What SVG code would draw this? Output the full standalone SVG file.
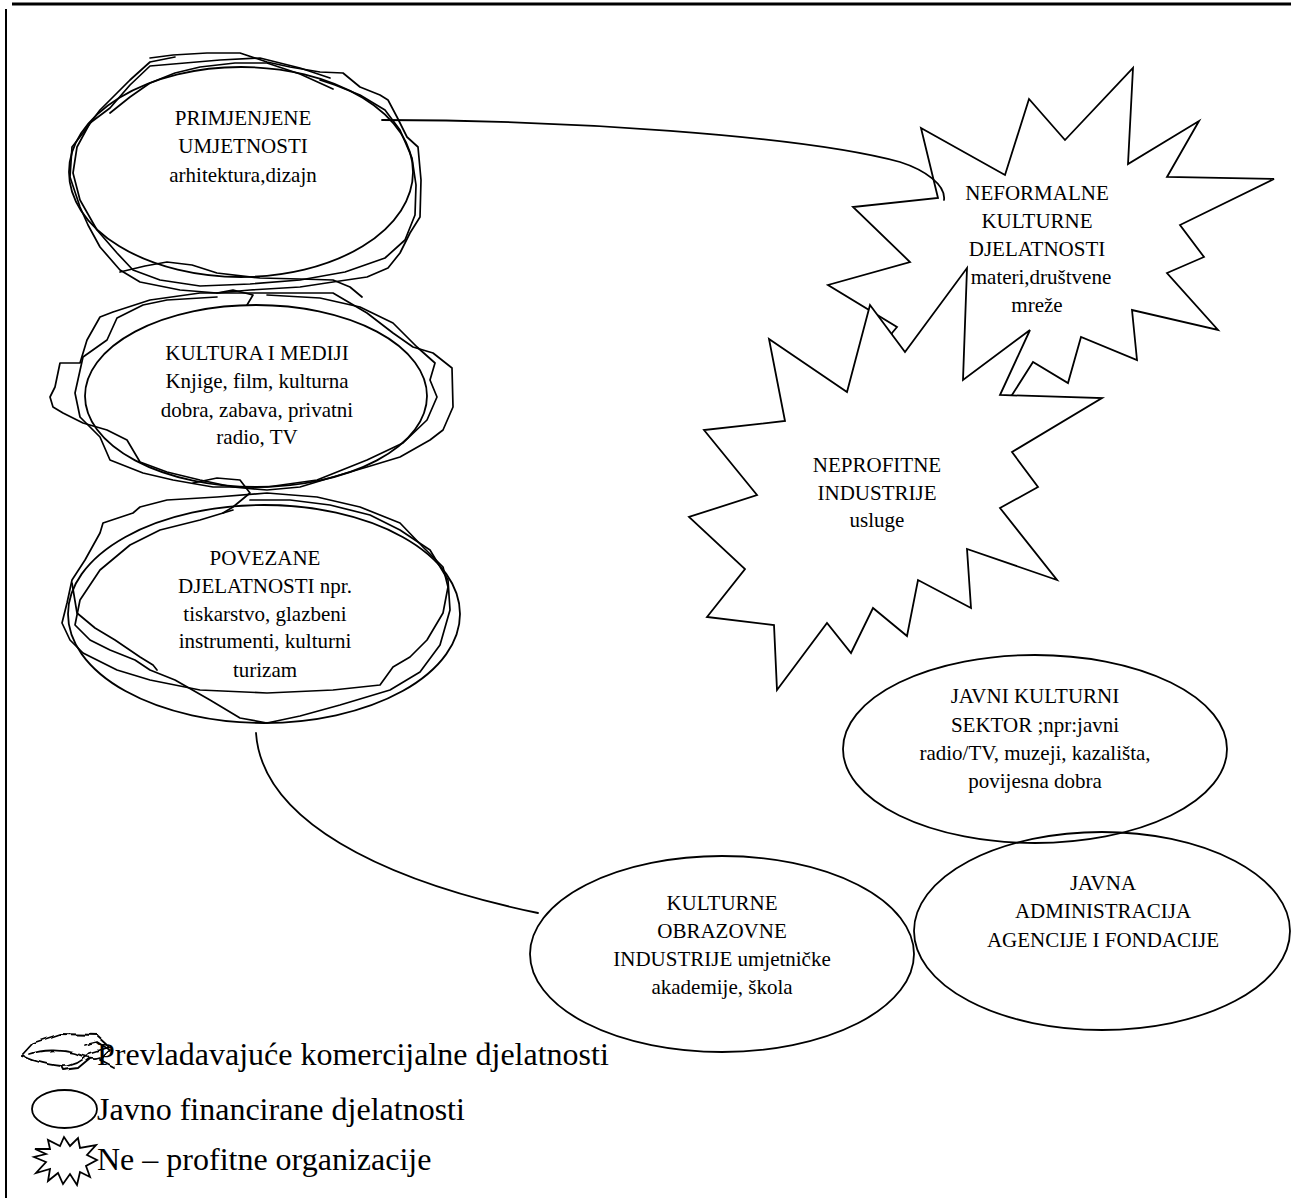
<svg xmlns="http://www.w3.org/2000/svg" width="1291" height="1198" viewBox="0 0 1291 1198">
<style>
.ln{fill:none;stroke:#000;stroke-width:1.8;stroke-linejoin:round;stroke-linecap:round}
.sc{fill:none;stroke:#000;stroke-width:1.7;stroke-linejoin:round;stroke-linecap:round}
.sh{fill:#fff;stroke:#000;stroke-width:1.8;stroke-linejoin:miter}
.t{font-family:"Liberation Serif","Times New Roman",serif;font-size:21px;fill:#000;text-anchor:middle}
.lg{font-family:"Liberation Serif","Times New Roman",serif;font-size:32px;fill:#000}
</style>
<defs>
<filter id="w5" x="-20%" y="-40%" width="140%" height="180%" color-interpolation-filters="sRGB">
<feTurbulence type="fractalNoise" baseFrequency="0.08" numOctaves="1" seed="7" result="n"/>
<feDisplacementMap in="SourceGraphic" in2="n" scale="5" xChannelSelector="R" yChannelSelector="G"/>
</filter>
</defs>

<g id="frame">
<line x1="12" y1="4" x2="1291" y2="4" stroke="#000" stroke-width="2.8"/>
<line x1="6" y1="9" x2="6" y2="1198" stroke="#000" stroke-width="2"/>
</g>

<g id="node-primjenjene">
<ellipse class="ln" cx="241" cy="172" rx="172" ry="105"/>
<path class="sc" d="M150,58 L173,55 L207,53 L240,53 L267,62 L290,67 L320,72 L343,73 L360,87 L380,95 L388,100 L397,117 L407,137 L418,147 L421,180 L420,217 L410,233 L400,253 L388,268 L367,277 L333,282 L300,287 L250,290 L217,293 L180,290 L140,282 L120,270 L100,247 L88,225 L80,207 L70,177 L72,147 L83,133 L100,110 L117,93 L130,80 L150,62 L175,57"/>
<path class="sc" d="M330,78 L300,68 L260,58 L220,60 L185,63 L150,66 L130,85 L110,108 L90,123 L77,147 L73,173 L80,200 L97,230 L117,253 L133,270 L160,280 L200,286 L250,284 L300,280 L345,272 L385,258 L405,240 L415,215 L416,185 L412,158 L400,130 L385,110 L360,95 L335,85 L320,80"/>
<path class="sc" d="M110,113 L130,97 L150,83 L175,73 L200,67 L235,63 L267,63 L300,74 L333,89"/>
<path class="sc" d="M120,272 L145,266 L167,262 L192,265 L217,273 L260,278 L300,279 L333,280 L350,287 L362,297"/>
<text class="t" x="243" y="125">PRIMJENJENE</text>
<text class="t" x="243" y="153">UMJETNOSTI</text>
<text class="t" x="243" y="182">arhitektura,dizajn</text>
</g>

<g id="node-kultura-mediji">
<ellipse class="ln" cx="256" cy="396" rx="171" ry="91"/>
<path class="sc" d="M113,312 L150,300 L200,293 L250,293 L333,293 L367,313 L393,333 L413,347 L433,353 L452,368 L453,407 L443,430 L430,440 L400,457 L367,467 L333,477 L300,487 L267,490 L233,487 L200,480 L167,472 L140,462 L127,440 L107,430 L83,423 L63,413 L53,407 L50,397 L55,387 L60,363 L80,363 L87,340 L100,317 L113,312"/>
<path class="sc" d="M217,297 L167,300 L143,305 L117,318 L107,340 L83,357 L75,393 L80,417 L100,437 L110,460 L143,473 L173,480 L213,487 L267,487 L317,480 L367,460 L403,443 L427,420 L437,397 L430,380 L435,363 L417,347 L393,323 L360,307 L320,298 L267,295"/>
<path class="sc" d="M193,483 L217,478 L240,480 L250,493 L233,507 L223,513"/>
<path class="sc" d="M217,293 L233,290 L253,295 L247,305"/>
<text class="t" x="257" y="360">KULTURA I MEDIJI</text>
<text class="t" x="257" y="388">Knjige, film, kulturna</text>
<text class="t" x="257" y="417">dobra, zabava, privatni</text>
<text class="t" x="257" y="444">radio, TV</text>
</g>

<g id="node-povezane">
<ellipse class="ln" cx="264" cy="614" rx="196" ry="109"/>
<path class="sc" d="M167,500 L140,507 L133,513 L103,523 L100,533 L85,560 L72,580 L67,603 L62,623 L70,640 L83,653 L117,670 L150,680 L200,690 L267,693 L333,690 L380,685 L393,667 L410,657 L427,640 L443,613 L448,587 L443,567 L423,547 L400,523 L360,507 L317,497 L267,493 L217,497 L167,500"/>
<path class="sc" d="M233,510 L200,520 L160,530 L130,545 L100,570 L80,600 L75,625 L90,640 L110,650 L135,660 L150,670 L175,680 L210,700 L240,718 L267,723 L300,716 L340,705 L390,690 L420,672 L440,645 L450,610 L448,580 L430,550 L400,530 L370,515 L330,505 L290,500 L250,500"/>
<path class="sc" d="M72,583 L77,613 L95,628 L115,640 L140,657 L153,665 L157,670"/>
<text class="t" x="265" y="565">POVEZANE</text>
<text class="t" x="265" y="593">DJELATNOSTI npr.</text>
<text class="t" x="265" y="621">tiskarstvo, glazbeni</text>
<text class="t" x="265" y="648">instrumenti, kulturni</text>
<text class="t" x="265" y="677">turizam</text>
</g>

<g id="node-neformalne">
<polygon class="sh" points="938,198 921,128 1005,175 1029,99 1065,140 1133,68 1128,164 1199,121 1167,177 1274,179 1180,225 1204,257 1167,273 1218,330 1132,310 1137,360 1081,337 1068,383 1033,362 1012,395 960,420 890,360 892,333 897,327 828,285 910,262 853,207"/>
<text class="t" x="1037" y="200">NEFORMALNE</text>
<text class="t" x="1037" y="228">KULTURNE</text>
<text class="t" x="1037" y="256">DJELATNOSTI</text>
<text class="t" x="1041" y="284">materi,društvene</text>
<text class="t" x="1037" y="312">mreže</text>
</g>

<g id="node-neprofitne">
<polygon class="sh" points="870,305 905,352 967,268 963,380 1030,330 1000,395 1102,398 1012,452 1038,487 1000,508 1057,580 967,549 971,608 918,580 907,636 873,608 851,653 827,623 777,690 774,625 707,617 745,569 689,517 757,495 704,430 785,421 769,339 847,392"/>
<text class="t" x="877" y="472">NEPROFITNE</text>
<text class="t" x="877" y="500">INDUSTRIJE</text>
<text class="t" x="877" y="527">usluge</text>
</g>

<g id="node-javni-sektor">
<ellipse class="ln" cx="1035" cy="749" rx="192" ry="94"/>
<text class="t" x="1035" y="703">JAVNI KULTURNI</text>
<text class="t" x="1035" y="732">SEKTOR ;npr:javni</text>
<text class="t" x="1035" y="760">radio/TV, muzeji, kazališta,</text>
<text class="t" x="1035" y="788">povijesna dobra</text>
</g>

<g id="node-javna-administracija">
<ellipse class="ln" cx="1102" cy="931" rx="188" ry="99"/>
<text class="t" x="1103" y="890">JAVNA</text>
<text class="t" x="1103" y="918">ADMINISTRACIJA</text>
<text class="t" x="1103" y="947">AGENCIJE I FONDACIJE</text>
</g>

<g id="node-obrazovne">
<ellipse class="ln" cx="722" cy="954" rx="192" ry="98"/>
<text class="t" x="722" y="910">KULTURNE</text>
<text class="t" x="722" y="938">OBRAZOVNE</text>
<text class="t" x="722" y="966">INDUSTRIJE umjetničke</text>
<text class="t" x="722" y="994">akademije, škola</text>
</g>

<g id="connectors">
<path class="ln" d="M382,120 C560,120 800,135 900,162 C925,170 946,185 944,200"/>
<path class="ln" d="M256,733 C262,820 380,880 538,913"/>
</g>

<g id="legend">
<g filter="url(#w5)">
<path class="ln" d="M22,1055 L33,1043 L60,1034 L97,1035 L110,1047"/>
<path class="ln" d="M22,1055 C30,1060 45,1064 60,1066 C72,1067 82,1062 90,1053 L110,1047"/>
<path class="ln" d="M30,1054 C42,1050 60,1049 75,1053 C84,1056 92,1060 100,1057"/>
<path class="ln" d="M60,1066 L62,1070 L78,1068 L90,1058"/>
<path class="ln" d="M85,1045 L97,1042 L110,1050 L100,1060 L115,1068"/>
</g>
<text class="lg" x="97" y="1065">Prevladavajuće komercijalne djelatnosti</text>
<ellipse class="ln" cx="64.5" cy="1109" rx="32.5" ry="19"/>
<text class="lg" x="97" y="1120">Javno financirane djelatnosti</text>
<polygon class="sh" points="35,1149 50,1149 48,1140 60,1146 64,1137 70,1146 78,1138 80,1148 96,1145 87,1155 97,1160 86,1166 90,1177 80,1172 77,1185 70,1174 63,1184 58,1173 48,1181 50,1169 36,1173 46,1162 34,1157 46,1154"/>
<text class="lg" x="97" y="1170">Ne – profitne organizacije</text>
</g>
</svg>
